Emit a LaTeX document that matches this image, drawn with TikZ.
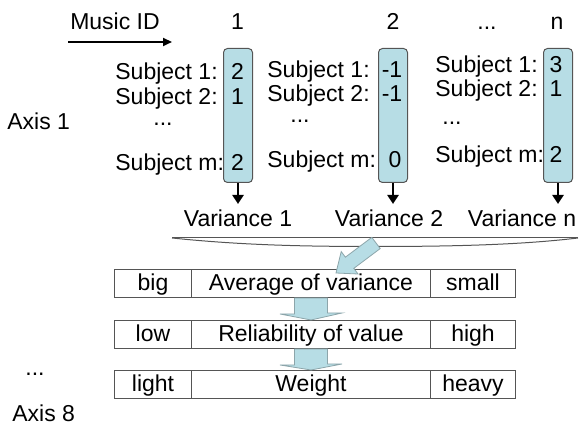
\documentclass[tikz,border=0pt]{standalone}
\usepackage{fontspec}
\setmainfont{Liberation Sans}
\usetikzlibrary{arrows.meta}
\definecolor{lblue}{RGB}{183,221,229}
\definecolor{edgec}{RGB}{85,85,85}
\definecolor{blockedge}{RGB}{140,165,170}
\begin{document}
\begin{tikzpicture}[x=0.5pt,y=-0.5pt,
  txt/.style={font=\fontsize{11.5}{13}\selectfont, inner sep=0pt, anchor=base},
  lbl/.style={txt, anchor=base west},
  col/.style={draw=edgec, fill=lblue, rounded corners=2pt, line width=0.5pt,
              minimum width=14.5pt, minimum height=67pt, anchor=north west, inner sep=0pt},
  cell/.style={draw=edgec, line width=0.5pt, minimum height=14pt, anchor=north west,
               inner sep=0pt, font=\fontsize{11.5}{13}\selectfont,
               text height=0.74em, text depth=0pt},
  downarr/.style={line width=1.3pt, -{Triangle[width=5.5pt,length=4.5pt]}},
  block/.style={fill=lblue, draw=blockedge, line width=0.4pt, line join=miter},
  bracel/.style={draw=edgec, line width=0.5pt}
]
\useasboundingbox (0,0) rectangle (579,431);

% header
\node[txt] (mid) at (115,29.5) {Music ID};
\node[txt] (h1) at (237.5,29.5) {1};
\node[txt] (h2) at (393,29.5) {2};
\node[txt] (hd) at (487,29.5) {...};
\node[txt] (hn) at (557,29.5) {n};
\coordinate (ms) at (68,42);
\coordinate (me) at (172,42);
\draw[line width=1pt, -{Triangle[width=4pt,length=4.5pt]}] (ms) -- (me);

% left labels
\node[lbl] (ax1) at (7,130) {Axis 1};
\node[txt] (axd) at (35,376) {...};
\node[lbl] (ax8) at (12,422) {Axis 8};

% columns
\node[col] (c1) at (223,48) {};
\node[col] (c2) at (378,48) {};
\node[col] (cn) at (543,48) {};

% column 1
\node[lbl] (s11) at (115,80) {Subject 1:};
\node[lbl] (s12) at (115,105) {Subject 2:};
\node[txt] (s1d) at (163,126) {...};
\node[lbl] (s1m) at (115,171) {Subject m:};
\node[txt] (v11) at (237.5,80) {2};
\node[txt] (v12) at (237.5,105) {1};
\node[txt] (v1m) at (237.5,171) {2};

% column 2
\node[lbl] (s21) at (267,78) {Subject 1:};
\node[lbl] (s22) at (267,102) {Subject 2:};
\node[txt] (s2d) at (300,123) {...};
\node[lbl] (s2m) at (267,168) {Subject m:};
\node[txt] (v21) at (392,78) {-1};
\node[txt] (v22) at (392,102) {-1};
\node[txt] (v2m) at (395,168) {0};

% column n
\node[lbl] (sn1) at (435,73) {Subject 1:};
\node[lbl] (sn2) at (435,97) {Subject 2:};
\node[txt] (snd) at (452,125) {...};
\node[lbl] (snm) at (435,163) {Subject m:};
\node[txt] (vn1) at (556,73) {3};
\node[txt] (vn2) at (556,97) {1};
\node[txt] (vnm) at (556,163) {2};

% variances
\node[txt] (var1) at (238,227) {Variance 1};
\node[txt] (var2) at (389,227) {Variance 2};
\node[txt] (varn) at (522,227) {Variance n};
\draw[downarr] (c1.south) -- ++(0,21);
\draw[downarr] (c2.south) -- ++(0,21);
\draw[downarr] (cn.south) -- ++(0,21);

% brace
\draw[bracel] (172,238) -- (578,238);
\draw[bracel] (172,238) .. controls (240,245) and (300,246.5) .. (375,246.5)
  .. controls (450,246.5) and (520,245) .. (578,238);

% table
\node[cell, minimum width=38.5pt] (r1a) at (114,269) {big};
\node[cell, minimum width=119.5pt] (r1b) at (191,269) {Average of variance};
\node[cell, minimum width=42.5pt] (r1c) at (430,269) {small};
\node[cell, minimum width=38.5pt] (r2a) at (114,320) {low};
\node[cell, minimum width=119.5pt] (r2b) at (191,320) {Reliability of value};
\node[cell, minimum width=42.5pt] (r2c) at (430,320) {high};
\node[cell, minimum width=38.5pt] (r3a) at (114,370) {light};
\node[cell, minimum width=119.5pt] (r3b) at (191,370) {Weight};
\node[cell, minimum width=42.5pt] (r3c) at (430,370) {heavy};

% block arrows
\draw[block] (371.8,237.4) -- (345.4,257.2) -- (341.2,251.6) -- (336,273)
  -- (358,274) -- (353.8,268.4) -- (380.2,248.6) -- cycle;
\draw[block] ([xshift=-8.25pt]r1b.south) -- ++(0,16) -- ++(-14.5,0) -- (r2b.north)
  -- ++(31,-7) -- ++(-14.5,0) -- ([xshift=8.25pt]r1b.south) -- cycle;
\draw[block] ([xshift=-8.25pt]r2b.south) -- ++(0,16) -- ++(-14.5,0) -- (r3b.north)
  -- ++(31,-6) -- ++(-14.5,0) -- ([xshift=8.25pt]r2b.south) -- cycle;
\end{tikzpicture}
\end{document}
